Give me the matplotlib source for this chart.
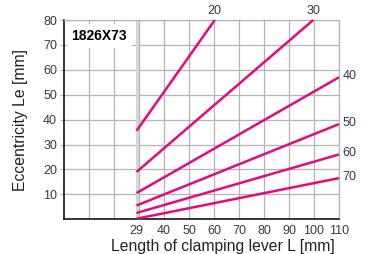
import matplotlib.pyplot as plt

plt.rcParams['font.family'] = ['Liberation Sans', 'DejaVu Sans']

# lines start at lever length 29 mm, end where they leave the chart
labels = ["20", "30", "40", "50", "60", "70"]
x_start = [29, 29, 29, 29, 29, 29]
y_start = [35.5, 19, 10.5, 5.5, 2.5, 0.2]
x_end = [60.3, 99.7, 110, 110, 110, 110]
y_end = [80, 80, 57, 38.2, 26, 16.5]

xtick_vals = [29, 40, 50, 60, 70, 80, 90, 100, 110]
ytick_vals = [10, 20, 30, 40, 50, 60, 70, 80]

pink = "#e5097f"
grey = "#b4b4b4"
txt = "#3a3a3a"

fig = plt.figure(figsize=(3.66, 2.54), dpi=100)
ax = fig.add_axes([0.175, 0.137, 0.751, 0.784])

ax.set_xlim(0, 110)
ax.set_ylim(0, 80)

for v in range(10, 111, 10):
    ax.axvline(v, color=grey, lw=0.9, zorder=1)
for v in range(10, 81, 10):
    ax.axhline(v, color=grey, lw=0.9, zorder=1)
ax.axvline(29, color="#d6d6d6", lw=2.2, zorder=1)

for lab, x0, y0, x1, y1 in zip(labels, x_start, y_start, x_end, y_end):
    ax.plot([x0, x1], [y0, y1], color=pink, lw=1.8, zorder=3, clip_on=False,
            solid_capstyle='butt')
    if y1 >= 80:
        ax.text(x1, y1 + 1.2, lab, ha='center', va='bottom', fontsize=9,
                color=txt)
    else:
        ax.text(x1 + 1.5, y1 + 0.5, lab, ha='left', va='center', fontsize=9,
                color=txt)

ax.text(3, 73.5, "1826X73", fontsize=10, fontweight='bold', va='center',
        ha='left', zorder=4,
        bbox=dict(facecolor='white', edgecolor='none', pad=3.5))

for s in ['top', 'right']:
    ax.spines[s].set_color(grey)
    ax.spines[s].set_linewidth(0.9)
ax.spines['left'].set_color('black')
ax.spines['bottom'].set_color('black')
ax.spines['left'].set_linewidth(1.1)
ax.spines['bottom'].set_linewidth(1.1)

ax.set_xticks(xtick_vals)
ax.set_xticklabels([str(v) for v in xtick_vals])
ax.set_yticks(ytick_vals)
ax.set_yticklabels([str(v) for v in ytick_vals])
ax.tick_params(axis='x', length=0, pad=4, labelsize=9, labelcolor=txt)
ax.tick_params(axis='y', length=3, color=grey, pad=2, labelsize=9,
               labelcolor=txt)

ax.set_xlabel("Length of clamping lever L [mm]", fontsize=11.3, color="#222222")
ax.xaxis.set_label_coords(0.578, -0.1)
ax.set_ylabel("Eccentricity Le [mm]", fontsize=11.3, color="#222222",
              labelpad=11)

fig.savefig("out.png", dpi=100)
